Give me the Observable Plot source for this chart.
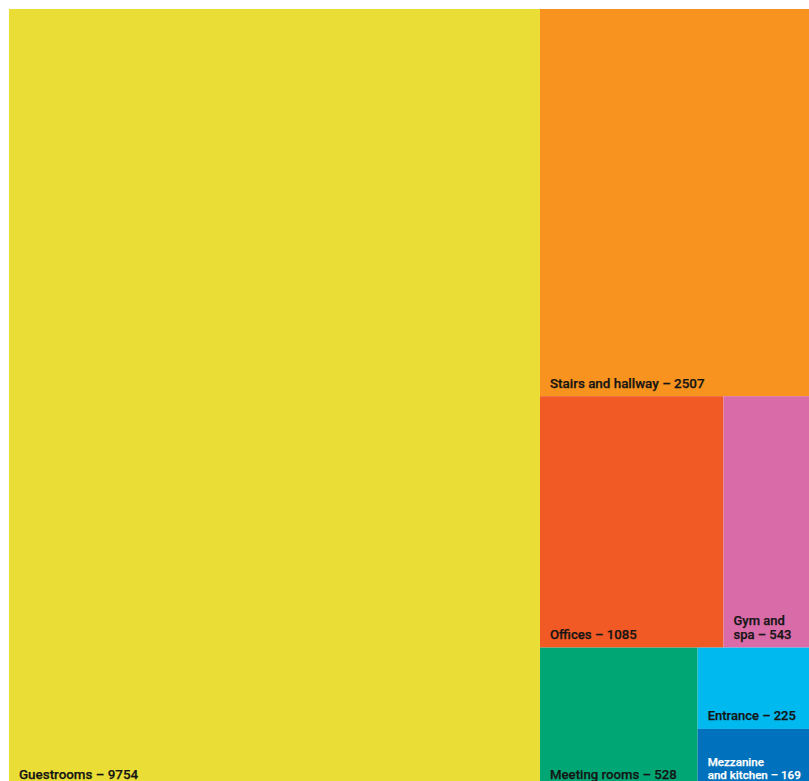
<!DOCTYPE html>
<html>
<head>
<meta charset="utf-8">
<script src="https://cdn.jsdelivr.net/npm/d3@7"></script>
<script src="https://cdn.jsdelivr.net/npm/@observablehq/plot@0.6"></script>
<style>
  html, body { margin: 0; padding: 0; background: #fff; overflow: hidden; }
  #chart svg { display: block; }
</style>
</head>
<body>
<div id="chart"></div>
<script>
// Data
const categories = ["Guestrooms", "Stairs and hallway", "Offices", "Gym and spa", "Meeting rooms", "Entrance", "Mezzanine and kitchen"];
const values = [9754, 2507, 1085, 543, 528, 225, 169];
const labelLines = [
  ["Guestrooms – 9754"],
  ["Stairs and hallway – 2507"],
  ["Offices – 1085"],
  ["Gym and", "spa – 543"],
  ["Meeting rooms – 528"],
  ["Entrance – 225"],
  ["Mezzanine", "and kitchen – 169"]
];
const colors = ["#EADE36", "#F7931E", "#F15A24", "#D96BA8", "#00A774", "#00B9EE", "#0071BC"];
const textColors = ["#151515", "#151515", "#151515", "#151515", "#151515", "#151515", "#ffffff"];
const labelSizes = [13.4, 13.4, 13.2, 13, 13.2, 13, 11.6];

// Layout (computed in layout units, mapped to pixels by Plot scales)
const layoutW = 1072, layoutH = 781;
const root = d3.hierarchy({children: categories.map((c, i) => ({name: c, value: values[i], i}))})
  .sum(d => d.value || 0)
  .sort((a, b) => b.value - a.value);
d3.treemap().tile(d3.treemapSquarify).size([layoutW, layoutH]).round(false)(root);
const visibleBottom = 778; // labels of cells running past the page edge stay readable
const leaves = root.leaves().map(l => ({
  name: l.data.name, i: l.data.i,
  x0: l.x0, x1: l.x1, y0: l.y0, y1: l.y1,
  ly: Math.min(l.y1, visibleBottom),
  label: labelLines[l.data.i].join("\n")
}));

const textMarks = leaves.map(d => Plot.text([d], {
  x: "x0", y: "ly", text: "label",
  textAnchor: "start", lineAnchor: "bottom",
  dx: 9.5, dy: -9,
  fill: textColors[d.i],
  stroke: textColors[d.i], strokeWidth: 0.25,
  fontSize: labelSizes[d.i], fontWeight: 500, lineHeight: 1.1
}));

const chart = Plot.plot({
  width: 809,
  height: 781,
  margin: 0,
  x: {domain: [0, layoutW], range: [9, 815.3], axis: null},
  y: {domain: [0, layoutH], range: [9, 790], axis: null},
  style: {fontFamily: "Roboto, sans-serif", background: "transparent"},
  marks: [
    Plot.rect(leaves, {x1: "x0", x2: "x1", y1: "y0", y2: "y1", fill: d => colors[d.i]}),
    ...textMarks
  ]
});
document.getElementById("chart").appendChild(chart);
</script>
</body>
</html>
